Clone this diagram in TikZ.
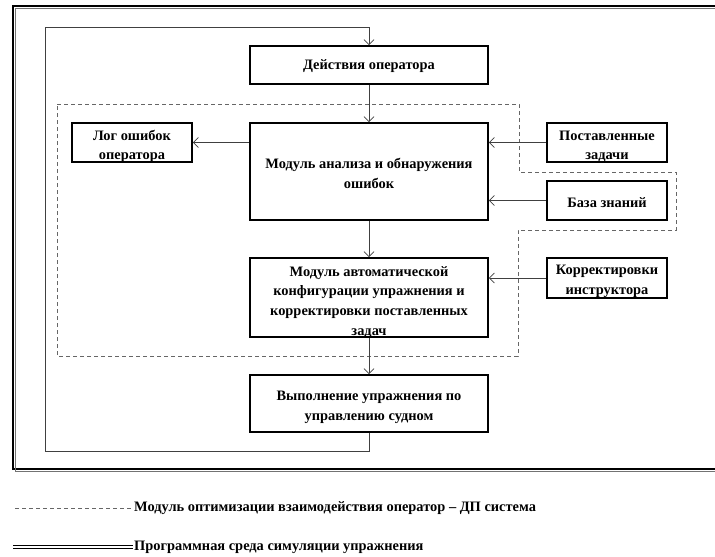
\documentclass[tikz,border=0pt]{standalone}
\usepackage{fontspec}
\setmainfont{Liberation Serif}
\usetikzlibrary{arrows.meta}
\begin{document}
\begin{tikzpicture}[x=1pt,y=-1pt,
  txt/.style={font=\bfseries\fontsize{14.4}{19.7}\selectfont},
  box/.style={draw=black, line width=1.6pt, inner sep=0pt},
  lbl/.style={txt, inner sep=0pt, align=center},
  arr/.style={draw=black!75, line width=0.8pt, -{Straight Barb[length=5pt,width=10pt]}},
  opt/.style={draw=black!60, dash pattern=on 4pt off 3pt, line width=1pt},
  ]
\useasboundingbox (0,0) rectangle (715,557);
% outer frame (programme environment)
\draw[black, line width=1.2pt] (13,6) rectangle (730,469);
\draw[black!55, line width=1.2pt] (15.5,8.5) rectangle (730,471.5);
% optimisation module region
\draw[opt] (57,104) -- (519,104) -- (519,172) -- (676,172) -- (676,230)
  -- (518,230) -- (518,356) -- (57,356) -- cycle;
% boxes
\node[box, minimum width=238pt, minimum height=38pt] (dei) at (369,65) {};
\node[box, minimum width=120pt, minimum height=39pt] (log) at (132,142.5) {};
\node[box, minimum width=238pt, minimum height=97pt] (anl) at (369,171.5) {};
\node[box, minimum width=120pt, minimum height=39pt] (pz) at (607,142.5) {};
\node[box, minimum width=120pt, minimum height=39pt] (bz) at (607,200.5) {};
\node[box, minimum width=238pt, minimum height=79pt] (auto) at (369,297.5) {};
\node[box, minimum width=120pt, minimum height=40pt] (kor) at (607,278) {};
\node[box, minimum width=238pt, minimum height=57pt] (vyp) at (369,403.5) {};
% texts
\node[lbl] (deit) at (369,66) {Действия оператора};
\node[lbl] (logt) at (132,146.5) {Лог ошибок\\оператора};
\node[lbl] (anlt) at (369,173.5) {Модуль анализа и обнаружения\\ошибок};
\node[lbl] (pzt) at (607,146.5) {Поставленные\\задачи};
\node[lbl] (bzt) at (607,202.5) {База знаний};
\node[lbl] (autot) at (369,302) {Модуль автоматической\\конфигурации упражнения и\\корректировки поставленных\\задач};
\node[lbl] (kort) at (607,281) {Корректировки\\инструктора};
\node[lbl] (vypt) at (369,407.5) {Выполнение упражнения по\\управлению судном};
% connectors
\draw[arr] (dei) -- (anl);
\draw[arr] (anl.west |- log.east) -- (log.east);
\draw[arr] (pz.west) -- (pz.west -| anl.east);
\draw[arr] (bz.west) -- (bz.west -| anl.east);
\draw[arr] (anl) -- (auto);
\draw[arr] (kor.west) -- (kor.west -| auto.east);
\draw[arr] (auto) -- (vyp);
\coordinate (lb) at (45,451);
\coordinate (lt) at (45,27);
\draw[arr] (vyp.south) |- (lb) -- (lt) -| (dei.north);
% legend
\coordinate (l1a) at (15,508);
\coordinate (l1b) at (133,508);
\draw[opt] (l1a) -- (l1b);
\node[lbl, anchor=west] (leg1) at (134,508) {Модуль оптимизации взаимодействия оператор – ДП система};
\coordinate (l2a) at (13,545.5);
\coordinate (l2b) at (133,545.5);
\coordinate (l2c) at (13,548.5);
\coordinate (l2d) at (133,548.5);
\draw[black, line width=1pt] (l2a) -- (l2b);
\draw[black, line width=1pt] (l2c) -- (l2d);
\node[lbl, anchor=west] (leg2) at (134,547) {Программная среда симуляции упражнения};
\end{tikzpicture}
\end{document}
